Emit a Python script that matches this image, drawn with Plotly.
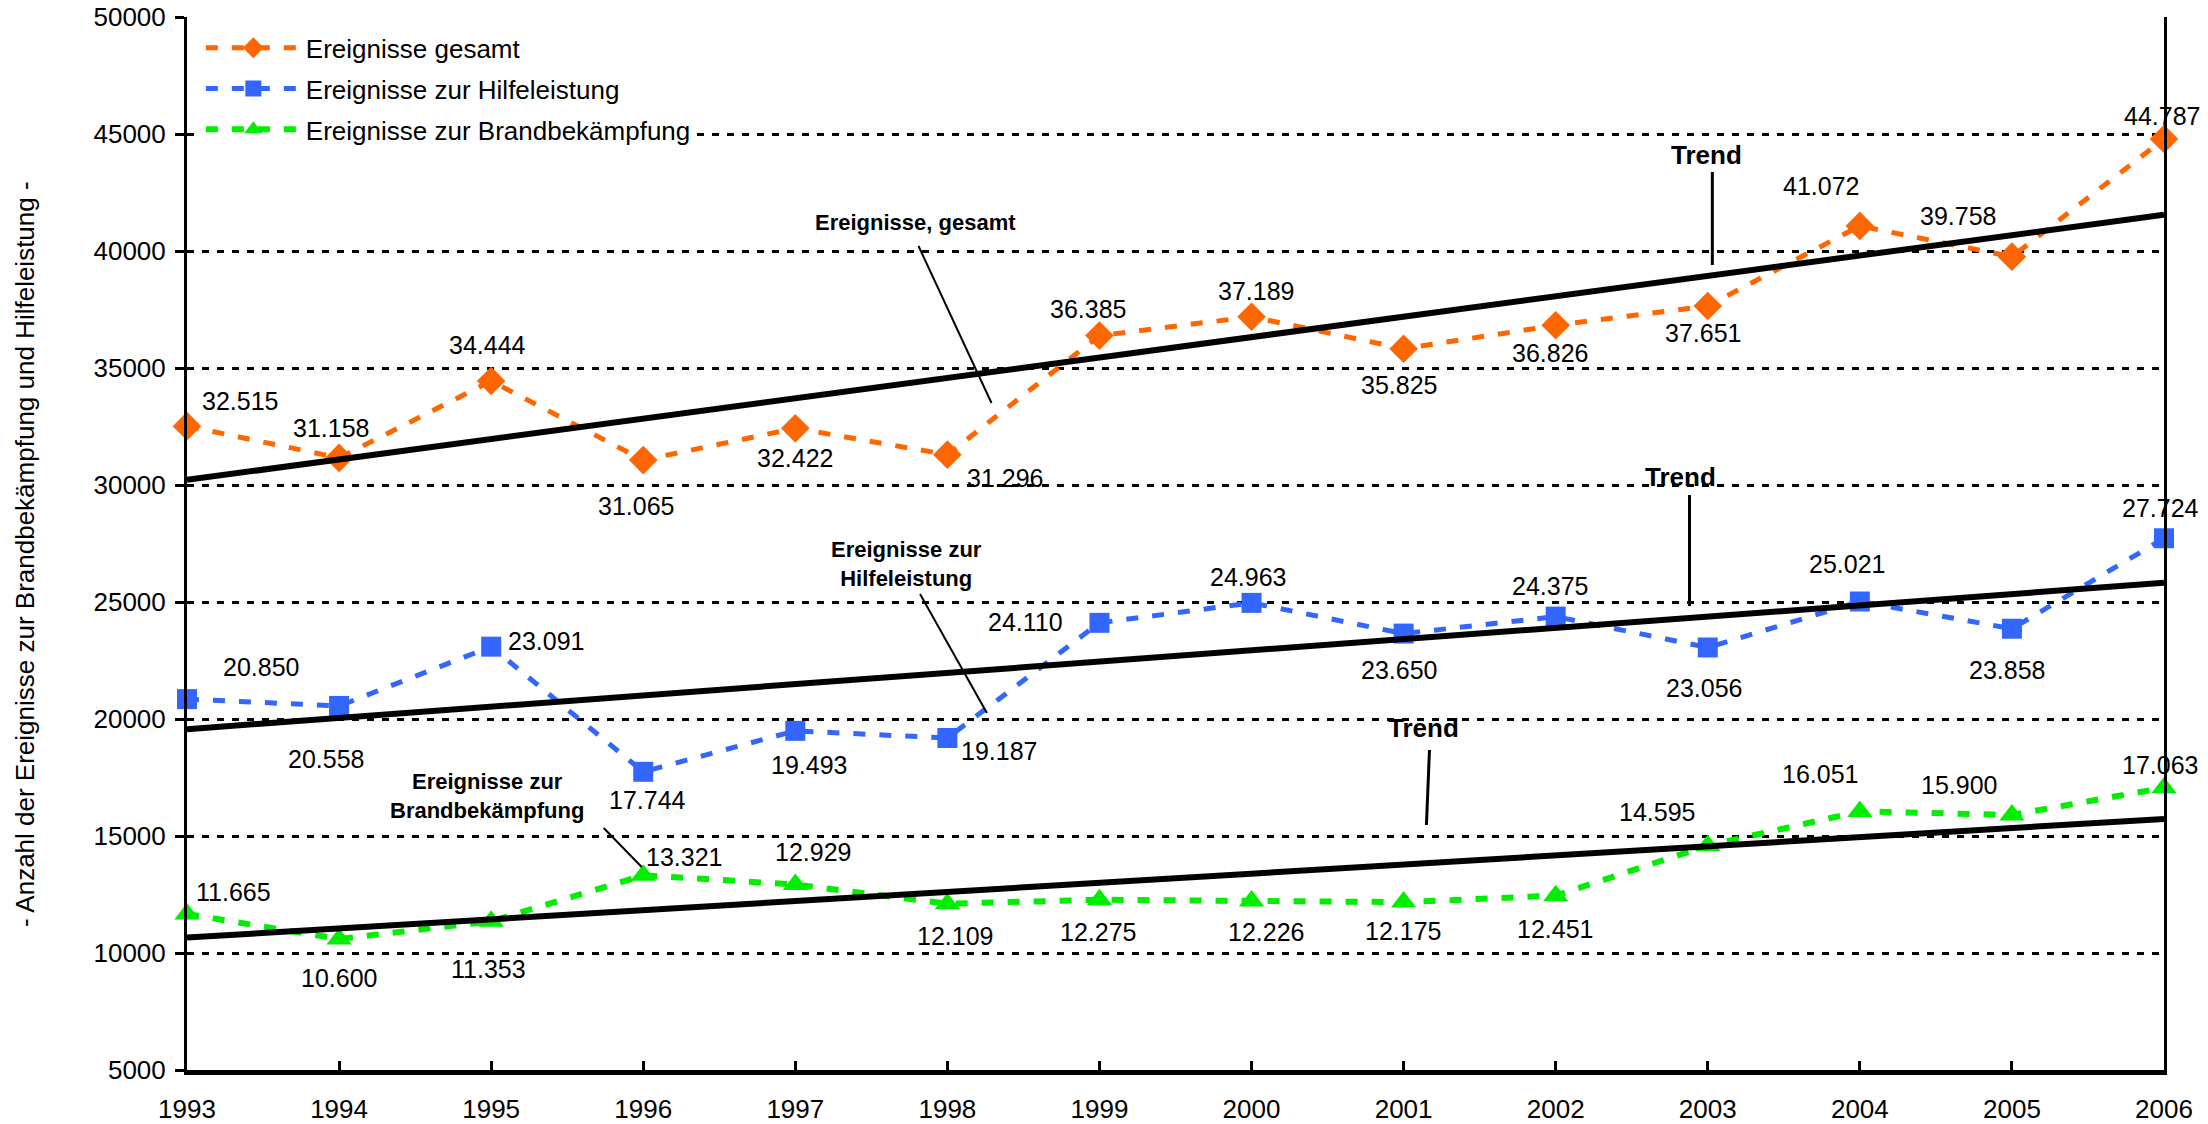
import plotly.graph_objects as go

# ---------------- data ----------------
years = [1993, 1994, 1995, 1996, 1997, 1998, 1999, 2000, 2001, 2002, 2003, 2004, 2005, 2006]
gesamt = [32515, 31158, 34444, 31065, 32422, 31296, 36385, 37189, 35825, 36826, 37651, 41072, 39758, 44787]
hilfe = [20850, 20558, 23091, 17744, 19493, 19187, 24110, 24963, 23650, 24375, 23056, 25021, 23858, 27724]
brand = [11665, 10600, 11353, 13321, 12929, 12109, 12275, 12226, 12175, 12451, 14595, 16051, 15900, 17063]

trend_years = [1993, 2006]
trend_gesamt = [30220, 41550]
trend_hilfe = [19565, 25820]
trend_brand = [10660, 15730]

series_names = ["Ereignisse gesamt", "Ereignisse zur Hilfeleistung", "Ereignisse zur Brandbekämpfung"]
y_ticks = [5000, 10000, 15000, 20000, 25000, 30000, 35000, 40000, 45000, 50000]

# ---------------- label placement (pixel offsets, dy positive = down) ----------------
off_gesamt = [(53, -25), (-8, -30), (-4, -36), (-7, 46), (0, 30), (58, 23), (-11, -27),
              (4, -26), (-5, 36), (-6, 28), (-5, 27), (-39, -40), (-54, -41), (-2, -23)]
off_hilfe = [(74, -32), (-13, 53), (55, -6), (4, 28), (14, 34), (52, 13), (-74, -1),
             (-4, -26), (-5, 36), (-6, -31), (-4, 41), (-13, -38), (-5, 41), (-4, -30)]
off_brand = [(46, -22), (0, 39), (-3, 48), (41, -18), (18, -32), (8, 32), (-1, 32),
             (14, 31), (-1, 29), (-1, 33), (-51, -33), (-40, -37), (-53, -30), (-4, -23)]

FONT = "Liberation Sans, Arial, sans-serif"
ORANGE = "#FF6600"
BLUE = "#3366FF"
GREEN = "#00EE00"

fig = go.Figure()

fig.add_trace(go.Scatter(
    x=years, y=gesamt, name=series_names[0], mode="lines+markers", legendgroup="g1",
    line=dict(color=ORANGE, width=5, dash="12px,14px"),
    marker=dict(symbol="diamond", size=22, color=ORANGE), cliponaxis=False))
fig.add_trace(go.Scatter(
    x=years, y=hilfe, name=series_names[1], mode="lines+markers", legendgroup="g2",
    line=dict(color=BLUE, width=5, dash="12px,14px"),
    marker=dict(symbol="square", size=20, color=BLUE), cliponaxis=False))
fig.add_trace(go.Scatter(
    x=years, y=brand, name=series_names[2], mode="lines+markers", legendgroup="g3",
    line=dict(color=GREEN, width=6, dash="12px,14px"),
    marker=dict(symbol="triangle-up", size=22, color=GREEN), cliponaxis=False))

for ty in (trend_gesamt, trend_hilfe, trend_brand):
    fig.add_trace(go.Scatter(x=trend_years, y=ty, mode="lines", showlegend=False,
                             line=dict(color="black", width=6), hoverinfo="skip"))

annotations = []


def fmt(v):
    return f"{v:,}".replace(",", ".")


for vals, offs in ((gesamt, off_gesamt), (hilfe, off_hilfe), (brand, off_brand)):
    for xv, yv, (dx, dy) in zip(years, vals, offs):
        annotations.append(dict(x=xv, y=yv, xref="x", yref="y", text=fmt(yv), showarrow=False,
                                xshift=dx, yshift=-dy, xanchor="center", yanchor="middle",
                                font=dict(family=FONT, size=25, color="black")))

# descriptive labels and "Trend" labels
bold_labels = [
    (2002.99, 44103, "<b>Trend</b>", 26),
    (1997.79, 41239, "<b>Ereignisse, gesamt</b>", 22),
    (2002.82, 30342, "<b>Trend</b>", 26),
    (1997.73, 26624, "<b>Ereignisse zur</b><br><b>Hilfeleistung</b>", 22),
    (2001.13, 19615, "<b>Trend</b>", 26),
    (1994.97, 16709, "<b>Ereignisse zur</b><br><b>Brandbekämpfung</b>", 22),
]
for xv, yv, txt, sz in bold_labels:
    annotations.append(dict(x=xv, y=yv, xref="x", yref="y", text=txt, showarrow=False,
                            xanchor="center", yanchor="middle",
                            font=dict(family=FONT, size=sz, color="black")))

# pointer lines
pointer_lines = [
    (2003.03, 43376, 2003.03, 39402, 3),
    (1997.81, 40214, 1998.29, 33504, 2),
    (2002.88, 29573, 2002.88, 24829, 3),
    (1997.82, 25342, 1998.26, 20256, 2),
    (2001.17, 18675, 2001.15, 15470, 3),
    (1995.74, 15342, 1995.99, 13675, 2),
]
shapes = []
for x0, y0, x1, y1, w in pointer_lines:
    shapes.append(dict(type="line", xref="x", yref="y", x0=x0, y0=y0, x1=x1, y1=y1,
                       line=dict(color="black", width=w)))

# y-axis title
annotations.append(dict(x=-0.0819, y=0.49, xref="paper", yref="paper", textangle=-90,
                        text="- Anzahl der Ereignisse zur Brandbekämpfung und Hilfeleistung -",
                        showarrow=False, xanchor="center", yanchor="middle",
                        font=dict(family=FONT, size=26, color="black")))

fig.update_layout(
    width=2208, height=1124,
    margin=dict(l=187, r=44, t=17, b=54, autoexpand=False),
    paper_bgcolor="white", plot_bgcolor="white",
    font=dict(family=FONT, size=26, color="black"),
    showlegend=True,
    legend=dict(x=0.007, y=0.993, xanchor="left", yanchor="top", bgcolor="white",
                font=dict(family=FONT, size=26, color="black"),
                tracegroupgap=4, itemwidth=95),
    annotations=annotations,
    shapes=shapes,
    xaxis=dict(range=[1993, 2006], tickmode="array", tickvals=years,
               ticktext=[str(y) for y in years], showgrid=False, zeroline=False,
               showline=True, linecolor="black", linewidth=5, automargin=False,
               ticks="inside", ticklen=9, tickwidth=3, tickcolor="black",
               ticklabelstandoff=12, tickfont=dict(family=FONT, size=26, color="black")),
    yaxis=dict(range=[5000, 50000], tickmode="array", tickvals=y_ticks,
               ticktext=[str(v) for v in y_ticks], automargin=False,
               showgrid=True, gridcolor="black", gridwidth=3, griddash="7px,8px",
               zeroline=False, showline=True, linecolor="black", linewidth=3, mirror=True,
               ticks="outside", ticklen=9, tickwidth=3, tickcolor="black",
               ticklabelstandoff=4, tickfont=dict(family=FONT, size=26, color="black")),
)

fig.write_html("out.html", config={"displayModeBar": False},
               post_script="document.body.style.margin='0';document.body.style.overflow='hidden';")
